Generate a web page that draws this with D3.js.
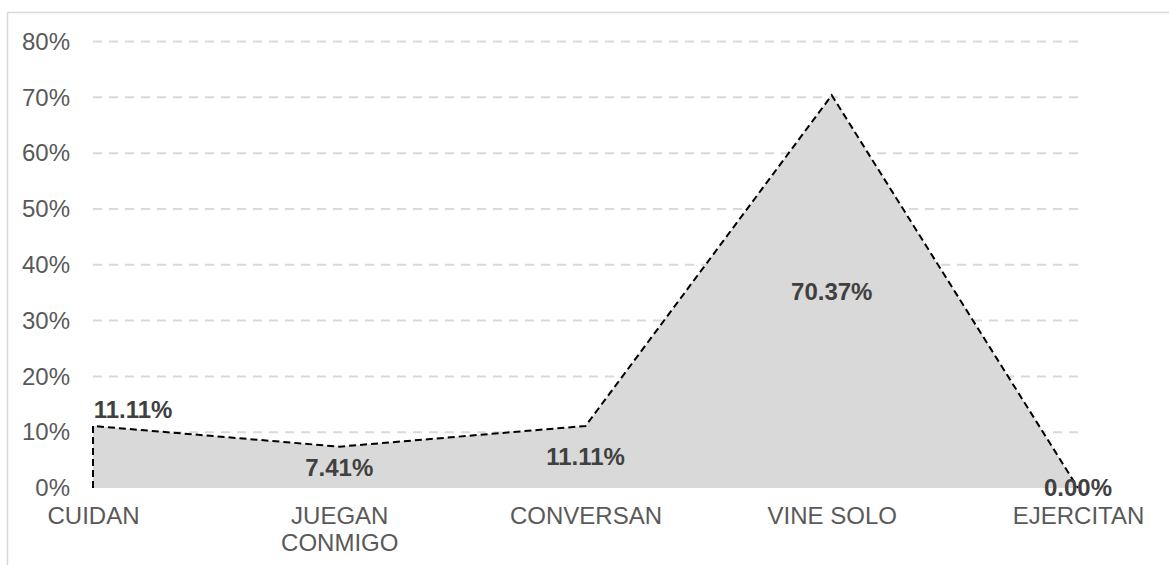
<!DOCTYPE html>
<html>
<head>
<meta charset="utf-8">
<script src="https://cdn.jsdelivr.net/npm/d3@7"></script>
<style>
  body { margin: 0; background: #fff; }
  svg { display: block; font-family: "Liberation Sans", Arial, sans-serif; }
</style>
</head>
<body>
<div id="chart"></div>
<script>
// data
var categories = ["CUIDAN", "JUEGAN CONMIGO", "CONVERSAN", "VINE SOLO", "EJERCITAN"];
var values = [11.11, 7.41, 11.11, 70.37, 0.00];
var yTicks = [0, 10, 20, 30, 40, 50, 60, 70, 80];

var W = 1169, H = 565;
var margin = {top: 41.5, left: 93, right: 91, bottom: 77};
var fs = "24px";

var svg = d3.select("#chart").append("svg")
    .attr("width", W)
    .attr("height", H);

// outer frame (cut off on right and bottom like the reference)
svg.append("rect")
  .attr("x", 7.5).attr("y", 12.5)
  .attr("width", W + 10).attr("height", H + 10)
  .attr("fill", "none")
  .attr("stroke", "#d9d9d9")
  .attr("stroke-width", 1.5);

var x = d3.scalePoint()
  .domain(categories)
  .range([margin.left, W - margin.right]);

var y = d3.scaleLinear()
  .domain([0, 80])
  .range([H - margin.bottom, margin.top]);

// gridlines (the zero line is hidden under the area in the reference)
svg.append("g")
  .selectAll("line")
  .data(yTicks.filter(d => d > 0))
  .join("line")
  .attr("x1", margin.left)
  .attr("x2", W - margin.right + 3)
  .attr("y1", d => y(d))
  .attr("y2", d => y(d))
  .attr("stroke", "#d9d9d9")
  .attr("stroke-width", 2)
  .attr("stroke-dasharray", "9,7");

// y axis labels
var yAxis = svg.append("g")
  .attr("transform", "translate(" + (margin.left - 23) + ",0)")
  .call(d3.axisLeft(y).tickValues(yTicks).tickSize(0).tickFormat(d => d + "%"));
yAxis.select(".domain").remove();
yAxis.selectAll("text")
  .attr("x", 0)
  .attr("fill", "#595959")
  .style("font-size", fs)
  .style("font-family", "Liberation Sans, Arial, sans-serif");

// area
var pts = categories.map((c, i) => ({c: c, v: values[i]}));

var area = d3.area()
  .x(d => x(d.c))
  .y0(y(0))
  .y1(d => y(d.v));

svg.append("path")
  .datum(pts)
  .attr("d", area)
  .attr("fill", "#d9d9d9");

// dashed outline: left edge up from zero, then through the points
var outline = [{c: categories[0], v: 0}].concat(pts);
svg.append("path")
  .datum(outline)
  .attr("d", d3.line().x(d => x(d.c)).y(d => y(d.v)))
  .attr("fill", "none")
  .attr("stroke", "#000")
  .attr("stroke-width", 2)
  .attr("stroke-dasharray", "7,4");

// x axis labels
var xAxis = svg.append("g")
  .attr("transform", "translate(0," + (y(0) + 12) + ")")
  .call(d3.axisBottom(x).tickSize(0));
xAxis.select(".domain").remove();
xAxis.selectAll("text").each(function(d) {
  var t = d3.select(this);
  var words = d.split(" ");
  t.text(null)
    .attr("fill", "#595959")
    .attr("y", 0)
    .attr("dy", null)
    .style("font-size", fs)
    .style("font-family", "Liberation Sans, Arial, sans-serif");
  if (d === "VINE SOLO") words = [d];
  words.forEach(function(w, i) {
    t.append("tspan")
      .attr("x", 0)
      .attr("y", 24 + i * 27)
      .text(w);
  });
});

// data labels: centred in the middle of the area, first one moved above
svg.append("g")
  .selectAll("text")
  .data(pts)
  .join("text")
  .attr("x", (d, i) => i === 0 ? x(d.c) + 40 : x(d.c))
  .attr("y", (d, i) => i === 0 ? y(d.v) - 16 : y(d.v / 2))
  .attr("dy", "0.35em")
  .attr("text-anchor", "middle")
  .attr("fill", "#404040")
  .attr("font-weight", "bold")
  .style("font-size", fs)
  .text(d => d.v.toFixed(2) + "%");
</script>
</body>
</html>
